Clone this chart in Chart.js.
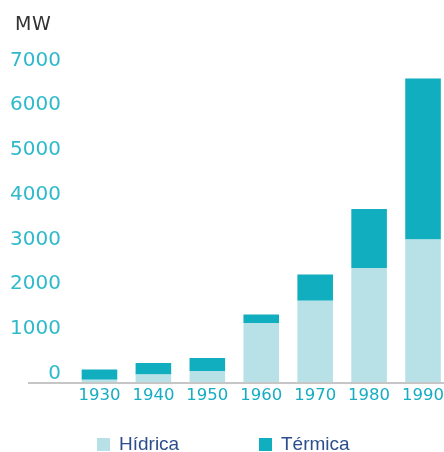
<!DOCTYPE html>
<html>
<head>
<meta charset="utf-8">
<script src="https://cdn.jsdelivr.net/npm/chart.js@4/dist/chart.umd.min.js"></script>
<style>
  html, body { margin: 0; padding: 0; background: #fff; }
  #wrap { position: relative; width: 444px; height: 452px; overflow: hidden; }
  #c { position: absolute; left: 0; top: 0; }
  .leg { position: absolute; top: 432px; font-family: "Liberation Sans", Arial, sans-serif; font-size: 19px; color: #2c4f8c; white-space: nowrap; line-height: 24px; }
  .leg i { position: absolute; top: 6px; width: 13px; height: 13px; }
  .leg span { position: absolute; left: 22px; top: 0; }
</style>
</head>
<body>
<div id="wrap">
  <canvas id="c" width="450" height="452"></canvas>
  <div class="leg" id="leg0" style="left:97px"><i></i><span></span></div>
  <div class="leg" id="leg1" style="left:259px"><i></i><span></span></div>
</div>
<script>
const years = ['1930', '1940', '1950', '1960', '1970', '1980', '1990'];
const hidrica = [75, 190, 270, 1340, 1840, 2570, 3210];
const termica = [225, 260, 290, 190, 585, 1320, 3600];
const yTicks = [0, 1000, 2000, 3000, 4000, 5000, 6000, 7000];
const seriesNames = ['Hídrica', 'Térmica'];
const seriesColors = ['#b8e1e7', '#10aebf'];
const unitLabel = 'MW';

const extras = {
  id: 'extras',
  afterDatasetsDraw(chart) {
    const ctx = chart.ctx;
    const y = chart.scales.y.getPixelForValue(0);
    ctx.save();
    ctx.strokeStyle = '#c6c6c6';
    ctx.lineWidth = 2;
    ctx.beginPath();
    ctx.moveTo(chart.chartArea.left - 44.5, y);
    ctx.lineTo(chart.width, y);
    ctx.stroke();
    ctx.fillStyle = '#333333';
    ctx.font = '19px "DejaVu Sans"';
    ctx.letterSpacing = '0.5px';
    ctx.textBaseline = 'alphabetic';
    ctx.textAlign = 'left';
    ctx.fillText(unitLabel, 15, 29.5);
    ctx.restore();
  }
};

new Chart(document.getElementById('c'), {
  type: 'bar',
  data: {
    labels: years,
    datasets: [
      { label: seriesNames[0], data: hidrica, backgroundColor: seriesColors[0], borderWidth: 0 },
      { label: seriesNames[1], data: termica, backgroundColor: seriesColors[1], borderWidth: 0 }
    ]
  },
  options: {
    responsive: false,
    animation: false,
    devicePixelRatio: 1,
    layout: { padding: { top: 70, left: 0, right: 0, bottom: 0 } },
    plugins: { legend: { display: false }, tooltip: { enabled: false } },
    datasets: { bar: { categoryPercentage: 1, barPercentage: 0.66 } },
    scales: {
      x: {
        stacked: true,
        grid: { display: false, drawTicks: false },
        border: { display: false },
        afterFit(s) { s.height = 69; },
        ticks: {
          color: '#16adc2',
          padding: 3,
          maxRotation: 0,
          autoSkip: false,
          font: { family: '"DejaVu Sans"', size: 16.5, weight: 'normal' }
        }
      },
      y: {
        stacked: true,
        min: 0,
        max: 7000,
        grid: { display: false, drawTicks: false },
        border: { display: false },
        afterFit(s) { s.width = 72.5; },
        afterBuildTicks(s) { s.ticks = yTicks.map(v => ({ value: v })); },
        ticks: {
          color: '#2fbacc',
          padding: 11.5,
          labelOffset: -9.5,
          callback: v => String(v),
          font: { family: '"DejaVu Sans"', size: 20, weight: 'normal' }
        }
      }
    }
  },
  plugins: [extras]
});

[0, 1].forEach(i => {
  const el = document.getElementById('leg' + i);
  el.querySelector('i').style.background = seriesColors[i];
  el.querySelector('span').textContent = seriesNames[i];
});
</script>
</body>
</html>
